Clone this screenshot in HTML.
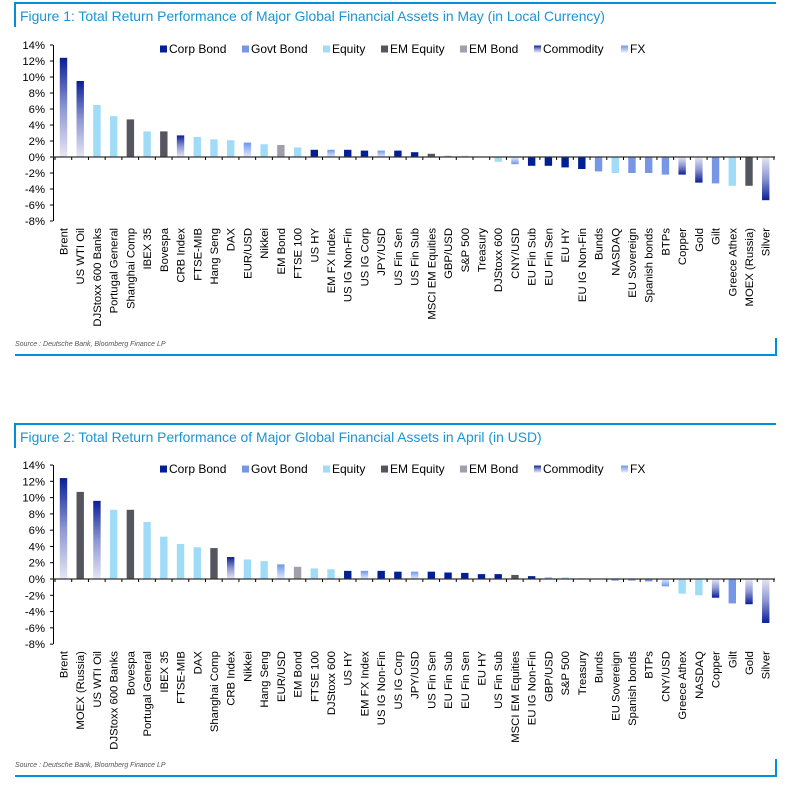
<!DOCTYPE html>
<html><head><meta charset="utf-8"><style>
html,body{margin:0;padding:0;background:#fff;width:797px;height:788px;overflow:hidden}
svg{display:block;font-family:"Liberation Sans",Arial,sans-serif}
</style></head><body>
<svg id="s" width="797" height="788" xmlns="http://www.w3.org/2000/svg">
<defs>
<linearGradient id="cp" x1="0" y1="0" x2="0" y2="1"><stop offset="0" stop-color="#0a1e96"/><stop offset="0.5" stop-color="#8c96d2"/><stop offset="1" stop-color="#e6e6f4"/></linearGradient>
<linearGradient id="cn" x1="0" y1="1" x2="0" y2="0"><stop offset="0" stop-color="#0a1e96"/><stop offset="0.5" stop-color="#8c96d2"/><stop offset="1" stop-color="#e6e6f4"/></linearGradient>
<linearGradient id="fp" x1="0" y1="0" x2="0" y2="1"><stop offset="0" stop-color="#6e96ec"/><stop offset="1" stop-color="#e4ecfc"/></linearGradient>
<linearGradient id="fn" x1="0" y1="1" x2="0" y2="0"><stop offset="0" stop-color="#6e96ec"/><stop offset="1" stop-color="#e4ecfc"/></linearGradient>
</defs>
</svg>
<script>
var C={c:"#001e96",g:"#7896e6",e:"#a0dcf8",m:"#555560",b:"#a0a0aa"};
var d1=[["Brent",12.4,"x"],["US WTI Oil",9.5,"x"],["DJStoxx 600 Banks",6.5,"e"],["Portugal General",5.1,"e"],["Shanghai Comp",4.7,"m"],["IBEX 35",3.2,"e"],["Bovespa",3.2,"m"],["CRB Index",2.7,"x"],["FTSE-MIB",2.5,"e"],["Hang Seng",2.2,"e"],["DAX",2.1,"e"],["EUR/USD",1.8,"f"],["Nikkei",1.6,"e"],["EM Bond",1.5,"b"],["FTSE 100",1.2,"e"],["US HY",0.9,"c"],["EM FX Index",0.9,"f"],["US IG Non-Fin",0.9,"c"],["US IG Corp",0.8,"c"],["JPY/USD",0.8,"f"],["US Fin Sen",0.8,"c"],["US Fin Sub",0.6,"c"],["MSCI EM Equities",0.4,"m"],["GBP/USD",0.15,"f"],["S&P 500",0.15,"e"],["Treasury",0.06,"g"],["DJStoxx 600",-0.6,"e"],["CNY/USD",-0.9,"f"],["EU Fin Sub",-1.1,"c"],["EU Fin Sen",-1.1,"c"],["EU HY",-1.3,"c"],["EU IG Non-Fin",-1.5,"c"],["Bunds",-1.8,"g"],["NASDAQ",-2.0,"e"],["EU Sovereign",-2.0,"g"],["Spanish bonds",-2.0,"g"],["BTPs",-2.2,"g"],["Copper",-2.2,"x"],["Gold",-3.2,"x"],["Gilt",-3.3,"g"],["Greece Athex",-3.6,"e"],["MOEX (Russia)",-3.6,"m"],["Silver",-5.4,"x"]];
var d2=[["Brent",12.4,"x"],["MOEX (Russia)",10.7,"m"],["US WTI Oil",9.6,"x"],["DJStoxx 600 Banks",8.5,"e"],["Bovespa",8.5,"m"],["Portugal General",7.0,"e"],["IBEX 35",5.2,"e"],["FTSE-MIB",4.3,"e"],["DAX",3.9,"e"],["Shanghai Comp",3.8,"m"],["CRB Index",2.7,"x"],["Nikkei",2.4,"e"],["Hang Seng",2.2,"e"],["EUR/USD",1.8,"f"],["EM Bond",1.5,"b"],["FTSE 100",1.3,"e"],["DJStoxx 600",1.2,"e"],["US HY",1.0,"c"],["EM FX Index",1.0,"f"],["US IG Non-Fin",1.0,"c"],["US IG Corp",0.9,"c"],["JPY/USD",0.9,"f"],["US Fin Sen",0.9,"c"],["EU Fin Sub",0.8,"c"],["EU Fin Sen",0.75,"c"],["EU HY",0.6,"c"],["US Fin Sub",0.6,"c"],["MSCI EM Equities",0.5,"m"],["EU IG Non-Fin",0.35,"c"],["GBP/USD",0.2,"f"],["S&P 500",0.2,"e"],["Treasury",0.08,"g"],["Bunds",0.05,"g"],["EU Sovereign",-0.2,"g"],["Spanish bonds",-0.2,"g"],["BTPs",-0.3,"g"],["CNY/USD",-0.9,"f"],["Greece Athex",-1.8,"e"],["NASDAQ",-2.0,"e"],["Copper",-2.3,"x"],["Gilt",-3.0,"g"],["Gold",-3.1,"x"],["Silver",-5.4,"x"]];
var h="";
function fig(oy,title,data,sc,zero){
 h+='<path d="M14 '+(oy+3)+'H776M15 '+(oy+3)+'V'+(oy+27)+'" stroke="#0090d8" stroke-width="2" fill="none"/>';
 h+='<text x="20" y="'+(oy+21)+'" font-size="13.9" fill="#1a94d4">'+title+'</text>';
 var z=zero;
 for(var p=14;p>=-8;p-=2){var y=z-p*sc;h+='<text x="45" y="'+(y+4)+'" font-size="11.3" text-anchor="end" fill="#000">'+p+'%</text><line x1="50" x2="53" y1="'+y+'" y2="'+y+'" stroke="#000"/>';}
 h+='<line x1="53.5" x2="53.5" y1="'+(z-14*sc)+'" y2="'+(z+8*sc)+'" stroke="#000"/>';
 var sp=16.72;
 data.forEach(function(d,i){var cx=63.5+i*sp,v=d[1],hh=Math.abs(v)*sc,y=v>=0?z-hh:z,f;
  if(d[2]=="x")f=v>=0?"url(#cp)":"url(#cn)";else if(d[2]=="f")f=v>=0?"url(#fp)":"url(#fn)";else f=C[d[2]];
  h+='<rect x="'+(cx-3.7)+'" y="'+y+'" width="7.4" height="'+Math.max(hh,0.6)+'" fill="'+f+'"/>';
  h+='<text transform="translate('+(cx+4)+','+(z+8*sc+7)+') rotate(-90)" font-size="11.3" text-anchor="end" fill="#000">'+d[0].replace("&","&amp;")+'</text>';
 });
 h+='<line x1="53" x2="775" y1="'+z+'" y2="'+z+'" stroke="#333" stroke-width="1.2"/>';
 for(var i=0;i<=43;i++){var x=55+i*sp;h+='<line x1="'+x+'" x2="'+x+'" y1="'+z+'" y2="'+(z+3)+'" stroke="#000"/>';}
 var L=[["Corp Bond",160,C.c],["Govt Bond",242,C.g],["Equity",323,C.e],["EM Equity",381,C.m],["EM Bond",460,C.b],["Commodity",534,"url(#cp)"],["FX",621,"url(#fp)"]];
 var ly=z-14*sc+4;
 L.forEach(function(l){h+='<rect x="'+l[1]+'" y="'+(ly-3.5)+'" width="7" height="7" fill="'+l[2]+'"/><text x="'+(l[1]+9)+'" y="'+(ly+4)+'" font-size="12" fill="#000">'+l[0]+'</text>';});
 h+='<text x="15" y="'+(oy+346)+'" font-size="7" font-style="italic" fill="#555">Source : Deutsche Bank, Bloomberg Finance LP</text>';
 h+='<path d="M15 '+(oy+355)+'H776V'+(oy+338)+'" stroke="#0090d8" stroke-width="2" fill="none"/>';
}
fig(0,"Figure 1: Total Return Performance of Major Global Financial Assets in May (in Local Currency)",d1,8,157);
fig(421,"Figure 2: Total Return Performance of Major Global Financial Assets in April (in USD)",d2,8.14,579);
document.getElementById("s").insertAdjacentHTML("beforeend",h);
</script>
</body></html>
